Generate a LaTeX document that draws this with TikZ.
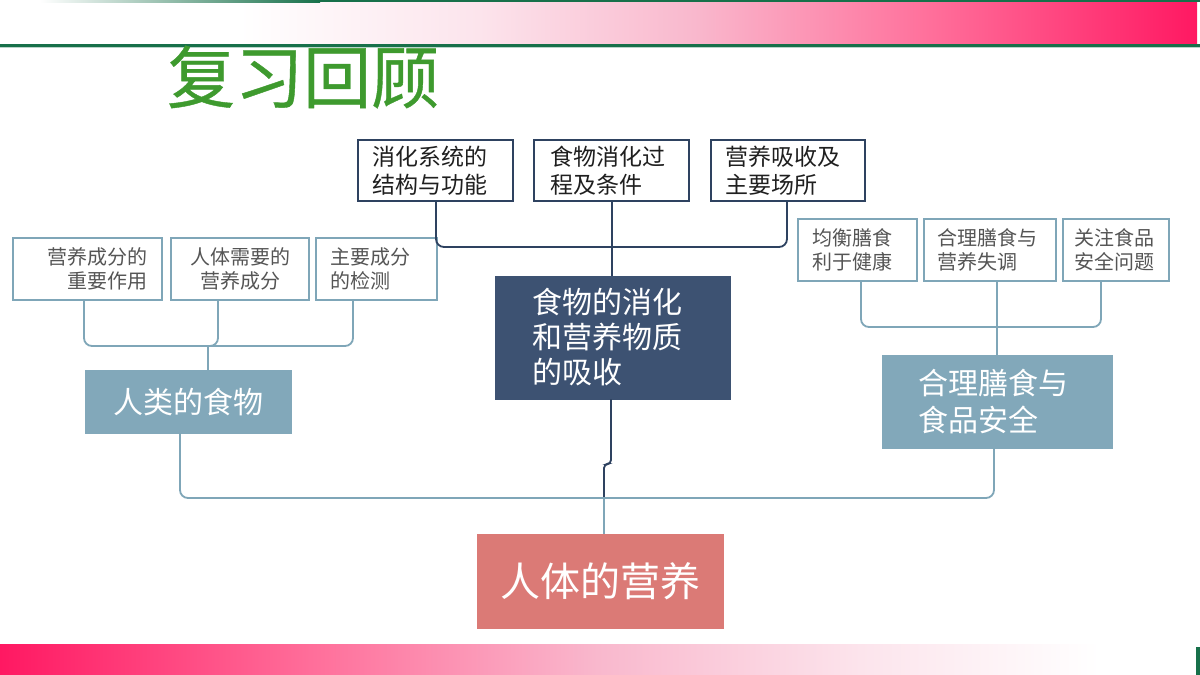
\documentclass[tikz,border=0pt]{standalone}
\usepackage{fontspec}
\setmainfont{Noto Sans CJK SC}
\newfontfamily\titlefont{Noto Sans CJK SC}[FakeBold=0.6]
\usetikzlibrary{calc}
\definecolor{navy}{HTML}{2E4260}
\definecolor{darkfill}{HTML}{3D5272}
\definecolor{lightblue}{HTML}{82A8BA}
\definecolor{lightline}{HTML}{7FA6B8}
\definecolor{rose}{HTML}{DB7A76}
\definecolor{titlegreen}{HTML}{3E9A2E}
\definecolor{barpink}{HTML}{FF1862}
\definecolor{pinkA}{HTML}{FCE4EC}
\definecolor{pinkB}{HTML}{F9B8CD}
\definecolor{pinkC}{HTML}{FF6E9A}
\definecolor{darkgreen}{HTML}{17704A}
\definecolor{graytext}{HTML}{555555}
\pgfdeclarehorizontalshading{topbar}{100bp}{color(0bp)=(white); color(25bp)=(white); color(35bp)=(white); color(45bp)=(pinkA); color(54bp)=(pinkB); color(64bp)=(pinkC); color(75bp)=(barpink); color(100bp)=(barpink)}
\pgfdeclarehorizontalshading{botbar}{100bp}{color(0bp)=(barpink); color(25bp)=(barpink); color(38bp)=(pinkC); color(50bp)=(pinkB); color(61bp)=(pinkA); color(71bp)=(white); color(100bp)=(white)}
\pgfdeclarehorizontalshading{greenfade}{100bp}{color(0bp)=(white); color(25bp)=(white); color(75bp)=(darkgreen); color(100bp)=(darkgreen)}
\tikzset{
  topbox/.style={draw=navy, line width=1.5pt, fill=white, inner sep=0pt, minimum height=61pt, text=black!88, font=\fontsize{23}{28}\selectfont, align=left},
  darkbox/.style={fill=darkfill, draw=darkfill, inner sep=0pt, text=white, font=\fontsize{30}{35}\selectfont, align=left},
  smallbox/.style={draw=lightline, line width=1.5pt, fill=white, inner sep=0pt, minimum height=62pt, text=graytext, font=\fontsize{20}{24}\selectfont},
  midbox/.style={fill=lightblue, draw=lightblue, inner sep=0pt, text=white, font=\fontsize{30}{37}\selectfont},
  rootbox/.style={fill=rose, draw=rose, inner sep=0pt, text=white, font=\fontsize{40}{46}\selectfont},
  navyline/.style={draw=navy, line width=1.8pt, rounded corners=8pt},
  lightconn/.style={draw=lightline, line width=1.8pt, rounded corners=8pt}
}
\begin{document}
\begin{tikzpicture}[x=1pt, y=-1pt]
\useasboundingbox (0,0) rectangle (1200,675);
\fill[white] (0,0) rectangle (1200,675);
% top bar
\shade[shading=topbar] (0,2) rectangle (1197,44);
\shade[shading=greenfade] (40,0) rectangle (320,2);
\fill[darkgreen] (320,0) rectangle (1200,2);
\fill[darkgreen] (0,44) rectangle (1200,46.5);
\fill[darkgreen!30] (0,46.5) rectangle (1200,47.5);
% bottom bar
\shade[shading=botbar] (0,644) rectangle (1195,675);
\fill[darkgreen] (1196,647) rectangle (1200,675);
% title
\node[anchor=west, inner sep=0pt, text=titlegreen, font=\titlefont\fontsize{68}{68}\selectfont] (title) at (167,77) {复习回顾};
% top row
\node[topbox, minimum width=155pt, text width=127pt] (A) at (435.5,170.5) {消化系统的\\结构与功能};
\node[topbox, minimum width=155pt, text width=123pt] (B) at (611.5,170.5) {食物消化过\\程及条件};
\node[topbox, minimum width=154pt, text width=126pt] (C) at (788,170.5) {营养吸收及\\主要场所};
\node[darkbox, minimum width=235pt, minimum height=123pt, text width=161pt] (D) at (612.5,337.5) {食物的消化\\和营养物质\\的吸收};
% left group
\node[smallbox, minimum width=149pt, text width=119pt, align=right] (L1) at (87.5,269) {营养成分的\\重要作用};
\node[smallbox, minimum width=138pt, text width=110pt, align=center] (L2) at (240,269) {人体需要的\\营养成分};
\node[smallbox, minimum width=121pt, text width=93pt, align=left] (L3) at (376.5,269) {主要成分\\的检测};
\node[midbox, minimum width=206pt, minimum height=63pt] (F1) at (188,401.5) {人类的食物};
% right group
\node[smallbox, minimum width=119pt, text width=91pt, align=left] (R1) at (857.5,250) {均衡膳食\\利于健康};
\node[smallbox, minimum width=132pt, text width=106pt, align=left] (R2) at (990,250) {合理膳食与\\营养失调};
\node[smallbox, minimum width=106pt, text width=84pt, align=left] (R3) at (1116,250) {关注食品\\安全问题};
\node[midbox, minimum width=230pt, minimum height=93pt, text width=158pt, align=left] (F3) at (997,401.5) {合理膳食与\\食品安全};
% root
\node[rootbox, minimum width=246pt, minimum height=94pt] (P) at (600,581) {人体的营养};
% coordinates
\coordinate (tA) at (436,247);
\coordinate (tB) at (612,247);
\coordinate (tC) at (787,247);
\coordinate (lA) at (84,346);
\coordinate (lB) at (218,346);
\coordinate (lC) at (353,346);
\coordinate (lF) at (208,346);
\coordinate (rA) at (861,327);
\coordinate (rC) at (1101,327);
\coordinate (rF) at (997,327);
\coordinate (jl) at (180,498);
\coordinate (jr) at (994,498);
\coordinate (J) at (604,498);
\coordinate (jog) at (611,464);
% top bracket
\draw[navyline] (A.south -| tA) -- (tA) -- (tC) -- (C.south -| tC);
\draw[navyline] (B.south -| tB) -- (D.north -| tB);
\draw[navyline, rounded corners=4pt] (D.south -| jog) -- (jog) -- (J |- jog) -- (J);
% left bracket
\draw[lightconn] (L1.south -| lA) -- (lA) -- (lC) -- (L3.south -| lC);
\draw[lightconn] (L2.south -| lB) -- (lB) -- (lF);
\draw[lightconn] (lF) -- (F1.north -| lF);
% right bracket
\draw[lightconn] (R1.south -| rA) -- (rA) -- (rC) -- (R3.south -| rC);
\draw[lightconn] (R2.south -| rF) -- (F3.north -| rF);
% main bracket
\draw[lightconn] (F1.south -| jl) -- (jl) -- (jr) -- (F3.south -| jr);
\draw[lightconn] (J) -- (P.north -| J);
\end{tikzpicture}
\end{document}
